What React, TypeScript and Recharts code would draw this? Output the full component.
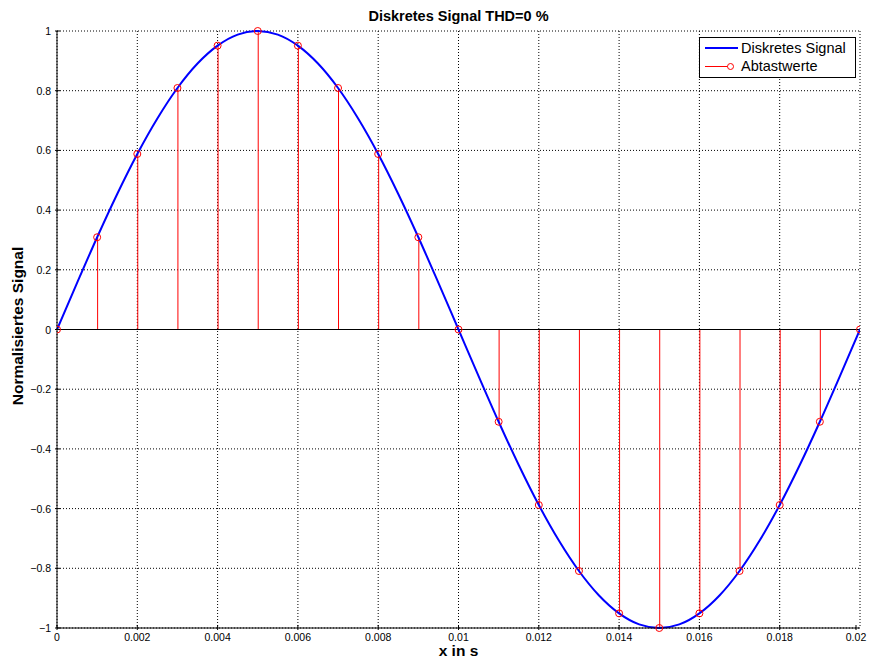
import {
  ComposedChart, Line, Bar,
  XAxis, YAxis, CartesianGrid, ReferenceLine,
} from 'recharts';

// time axis of the continuous curve (s)
const time = [
  0, 0.0005, 0.001, 0.0015, 0.002, 0.0025, 0.003, 0.0035, 0.004, 0.0045,
  0.005, 0.0055, 0.006, 0.0065, 0.007, 0.0075, 0.008, 0.0085, 0.009, 0.0095,
  0.01, 0.0105, 0.011, 0.0115, 0.012, 0.0125, 0.013, 0.0135, 0.014, 0.0145,
  0.015, 0.0155, 0.016, 0.0165, 0.017, 0.0175, 0.018, 0.0185, 0.019, 0.0195,
  0.02,
];

// Diskretes Signal (blue curve), read at each time point
const signal = [
  0, 0.156, 0.309, 0.454, 0.588, 0.707, 0.809, 0.891, 0.951, 0.988,
  1, 0.988, 0.951, 0.891, 0.809, 0.707, 0.588, 0.454, 0.309, 0.156,
  0, -0.156, -0.309, -0.454, -0.588, -0.707, -0.809, -0.891, -0.951, -0.988,
  -1, -0.988, -0.951, -0.891, -0.809, -0.707, -0.588, -0.454, -0.309, -0.156,
  0,
];

// Abtastwerte every 1 ms
const samples = [
  0, 0.309, 0.588, 0.809, 0.951, 1, 0.951, 0.809, 0.588, 0.309,
  0, -0.309, -0.588, -0.809, -0.951, -1, -0.951, -0.809, -0.588, -0.309,
  0,
];

const xTicks = [0, 0.002, 0.004, 0.006, 0.008, 0.01, 0.012, 0.014, 0.016, 0.018, 0.02];
const xTickLabels = ['0', '0.002', '0.004', '0.006', '0.008', '0.01', '0.012', '0.014', '0.016', '0.018', '0.02'];
const yTicks = [-1, -0.8, -0.6, -0.4, -0.2, 0, 0.2, 0.4, 0.6, 0.8, 1];
const yTickLabels = ['\u22121', '\u22120.8', '\u22120.6', '\u22120.4', '\u22120.2', '0', '0.2', '0.4', '0.6', '0.8', '1'];

const data = time.map((t, i) => ({
  t,
  signal: signal[i],
  sample: i % 2 === 0 ? samples[i / 2] : null,
}));

const FONT = '"Liberation Sans", Arial, sans-serif';
const TICK_LEN = 5;

function BottomTick({ x, y, payload }: any) {
  const idx = xTicks.indexOf(payload.value);
  return (
    <g>
      <line x1={x} y1={y} x2={x} y2={y - TICK_LEN} stroke="#000" />
      <text x={x} y={y + 11} textAnchor="middle" fontSize={10.5} fontFamily={FONT} fill="#000">
        {idx >= 0 ? xTickLabels[idx] : payload.value}
      </text>
    </g>
  );
}

function TopTick({ x, y }: any) {
  return <line x1={x} y1={y} x2={x} y2={y + TICK_LEN} stroke="#000" />;
}

function LeftTick({ x, y, payload }: any) {
  const idx = yTicks.indexOf(payload.value);
  return (
    <g>
      <line x1={x} y1={y} x2={x + TICK_LEN} y2={y} stroke="#000" />
      <text x={x - 4} y={y + 4} textAnchor="end" fontSize={10.5} fontFamily={FONT} fill="#000">
        {idx >= 0 ? yTickLabels[idx] : payload.value}
      </text>
    </g>
  );
}

function RightTick({ x, y }: any) {
  return <line x1={x} y1={y} x2={x - TICK_LEN} y2={y} stroke="#000" />;
}

export default function App() {
  return (
    <div style={{ position: 'absolute', left: 0, top: 0, width: 870, height: 661, background: '#fff', fontFamily: FONT }}>
      <ComposedChart
        width={870}
        height={661}
        data={data}
        margin={{ top: 31, right: 10, bottom: 8, left: 7 }}
      >
        <CartesianGrid
          xAxisId="b"
          yAxisId="l"
          stroke="#000"
          strokeDasharray="1 2"
          horizontalValues={yTicks}
          verticalValues={xTicks}
        />
        <XAxis
          xAxisId="b"
          dataKey="t"
          type="number"
          domain={[0, 0.02]}
          ticks={xTicks}
          tick={<BottomTick />}
          tickLine={false}
          tickSize={0}
          height={25}
          axisLine={{ stroke: '#000' }}
          allowDataOverflow
        />
        <XAxis
          xAxisId="t"
          orientation="top"
          dataKey="t"
          type="number"
          domain={[0, 0.02]}
          ticks={xTicks}
          tick={<TopTick />}
          tickLine={false}
          tickSize={0}
          height={0}
          axisLine={{ stroke: '#000' }}
        />
        <YAxis
          yAxisId="l"
          type="number"
          domain={[-1, 1]}
          ticks={yTicks}
          tick={<LeftTick />}
          tickLine={false}
          tickSize={0}
          width={50}
          axisLine={{ stroke: '#000' }}
        />
        <YAxis
          yAxisId="r"
          orientation="right"
          type="number"
          domain={[-1, 1]}
          ticks={yTicks}
          tick={<RightTick />}
          tickLine={false}
          tickSize={0}
          width={0}
          axisLine={{ stroke: '#000' }}
        />
        <ReferenceLine xAxisId="b" yAxisId="l" y={0} stroke="#000" strokeWidth={1} />
        <Bar
          xAxisId="b"
          yAxisId="l"
          dataKey="sample"
          fill="#ff0000"
          barSize={1}
          isAnimationActive={false}
        />
        <Line
          xAxisId="b"
          yAxisId="l"
          dataKey="signal"
          type="monotone"
          stroke="#0000ff"
          strokeWidth={2}
          dot={false}
          isAnimationActive={false}
        />
        <Line
          xAxisId="b"
          yAxisId="l"
          dataKey="sample"
          stroke="none"
          connectNulls
          dot={{ r: 3.5, stroke: '#ff0000', strokeWidth: 1, fill: 'none' }}
          isAnimationActive={false}
        />
      </ComposedChart>

      <div style={{ position: 'absolute', left: 0, width: 917, top: 9, textAlign: 'center', fontSize: 14.5, fontWeight: 'bold', lineHeight: 1 }}>
        Diskretes Signal THD=0 %
      </div>
      <div style={{ position: 'absolute', left: 0, width: 917, top: 643, textAlign: 'center', fontSize: 15.5, fontWeight: 'bold', lineHeight: 1 }}>
        x in s
      </div>
      <div
        style={{
          position: 'absolute', left: 18, top: 326, width: 220, marginLeft: -110, marginTop: -9,
          textAlign: 'center', fontSize: 15.5, fontWeight: 'bold', lineHeight: '18px',
          transform: 'rotate(-90deg)', whiteSpace: 'nowrap',
        }}
      >
        Normalisiertes Signal
      </div>

      <div style={{ position: 'absolute', left: 699, top: 37, width: 155, height: 39, border: '1px solid #000', background: '#fff', fontSize: 14.5, lineHeight: 1 }}>
        <div style={{ position: 'absolute', left: 5, top: 9, width: 33, height: 2, background: '#0000ff' }} />
        <div style={{ position: 'absolute', left: 41, top: 3 }}>Diskretes Signal</div>
        <div style={{ position: 'absolute', left: 5, top: 28, width: 28, height: 1, background: '#ff0000' }} />
        <div style={{ position: 'absolute', left: 27, top: 25, width: 5, height: 5, borderRadius: '50%', border: '1px solid #ff0000', background: '#fff' }} />
        <div style={{ position: 'absolute', left: 41, top: 21 }}>Abtastwerte</div>
      </div>
    </div>
  );
}
